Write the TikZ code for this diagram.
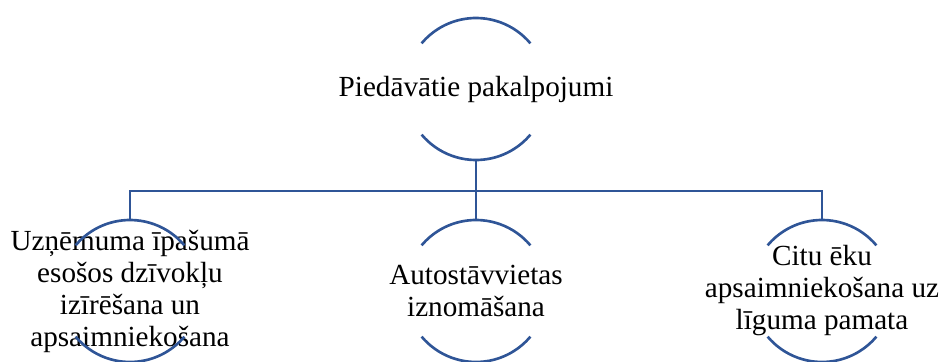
\documentclass[tikz,border=0pt]{standalone}
\usepackage{fontspec}
\setmainfont{Liberation Serif}
\usetikzlibrary{positioning,calc}
\definecolor{ringblue}{RGB}{47,85,151}

\begin{document}
\begin{tikzpicture}[node distance=4.04cm and 6.92cm, on grid,
    ring/.style={circle, minimum size=2.84cm, inner sep=0pt, outer sep=0pt},
    txt/.style={align=center, inner sep=0pt, font=\fontsize{16.6}{18.2}\selectfont},
    arcline/.style={draw=ringblue, line width=1.5pt}]

  \useasboundingbox (-9.52,-5.44) rectangle (9.34,1.78);

  % Rings for the services tree
  \node[ring] (top) at (0,0) {};
  \node[ring] (mid) [below=of top] {};
  \node[ring] (left) [left=of mid] {};
  \node[ring] (right) [right=of mid] {};

  % Texts inside the rings
  \node[txt] (top-t) at (top) {Piedāvātie pakalpojumi};
  \node[txt] (left-t) at (left) {Uzņēmuma īpašumā\\esošos dzīvokļu\\izīrēšana un\\apsaimniekošana};
  \node[txt] (mid-t) at (mid) {Autostāvvietas\\iznomāšana};
  \node[txt] (right-t) at (right) {Citu ēku\\apsaimniekošana uz\\līguma pamata};

  % Upper and lower arcs
  \foreach \n in {top,left,mid,right} {
    \draw[arcline] (\n.40) arc (40:140:1.42);
    \draw[arcline] (\n.220) arc (220:320:1.42);
  }

  % Links from the top ring
  \draw[arcline] (top.south) -- ++(0,-0.62) coordinate (hub);
  \draw[arcline] (left.north) |- (hub) -| (right.north);
  \draw[arcline] (hub) -- (mid.north);

\end{tikzpicture}
\end{document}
